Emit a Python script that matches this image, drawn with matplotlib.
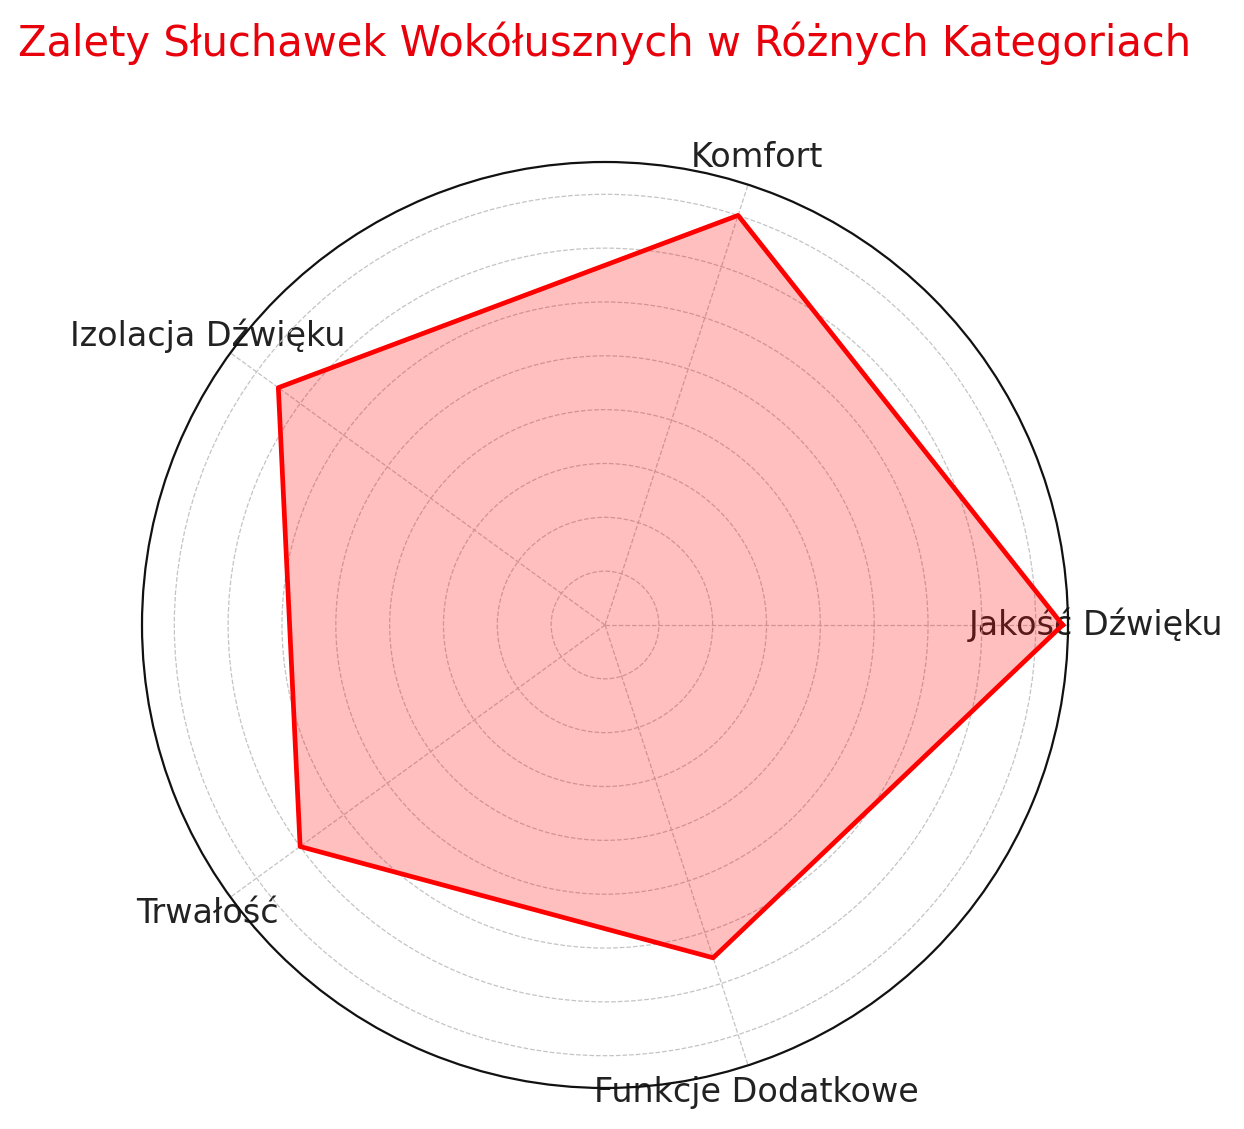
import numpy as np
import matplotlib
matplotlib.use("Agg")
import matplotlib.pyplot as plt

categories = ["Jakość Dźwięku", "Komfort", "Izolacja Dźwięku", "Trwałość", "Funkcje Dodatkowe"]
values = [85, 80, 75, 70, 65]
r_ticks = [10, 20, 30, 40, 50, 60, 70, 80]
r_max = 86

angles = np.linspace(0, 2 * np.pi, len(categories), endpoint=False).tolist()
closed_vals = values + values[:1]
closed_angles = angles + angles[:1]

fig = plt.figure(figsize=(12.44, 11.29), dpi=100)
ax = fig.add_axes([142 / 1244, 41 / 1129, 926 / 1244, 926 / 1129], polar=True)

ax.fill(closed_angles, closed_vals, color="red", alpha=0.25, zorder=2)
ax.plot(closed_angles, closed_vals, color="red", linewidth=3.4, zorder=3)

ax.set_ylim(0, r_max)
ax.set_yticks(r_ticks)
ax.set_yticklabels([])
ax.set_xticks(angles)
ax.set_xticklabels(categories, fontsize=24, color="#222222")
ax.tick_params(axis="x", pad=10)
ax.set_axisbelow(True)
ax.grid(True, color="#c4c4c4", linestyle="--", linewidth=0.9)
ax.spines["polar"].set_color("#111111")
ax.spines["polar"].set_linewidth(1.6)

ax.set_title("Zalety Słuchawek Wokółusznych w Różnych Kategoriach",
             fontsize=30, color="#e8000b", pad=76)

fig.savefig("out.png", dpi=100)
